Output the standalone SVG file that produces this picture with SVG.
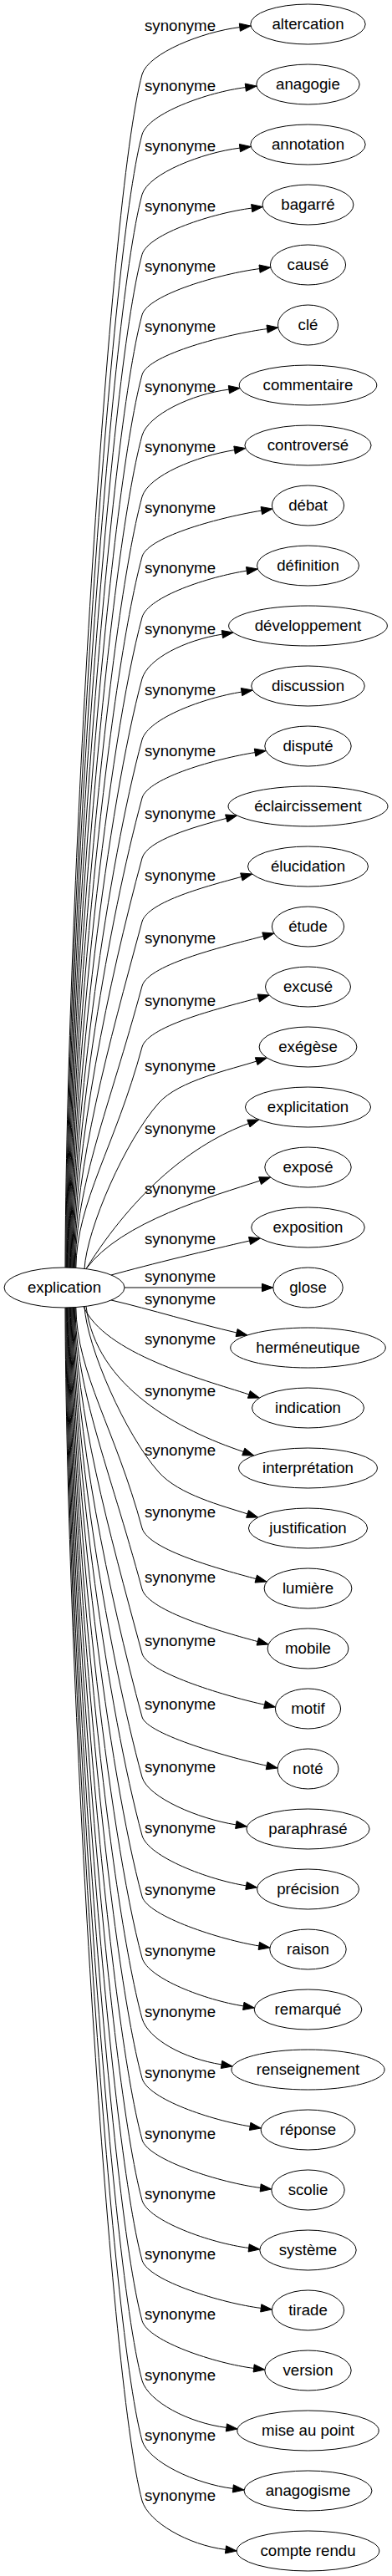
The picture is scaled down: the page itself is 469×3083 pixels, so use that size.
<svg xmlns="http://www.w3.org/2000/svg" width="469" height="3083" viewBox="0 0 469 3083">
<style>
.n ellipse{fill:#fff;stroke:#000;stroke-width:1}
text{font-family:"Liberation Sans",Arial,sans-serif;font-size:18.67px;fill:#000;text-anchor:middle}
.e path{fill:none;stroke:#000;stroke-width:1}
.e polygon{fill:#000;stroke:#000;stroke-width:1}
</style>
<rect width="469" height="3083" fill="#fff"/>
<g id="connectors">
<g class="e"><path d="M78,1517.5 C79,1089 129.5,239 170,89 C177.6,63.6 241.8,38.2 286.8,32.6"/><polygon points="300,31 287.4,37.3 286.3,28"/><text x="215.5" y="36.5">synonyme</text></g>
<g class="e"><path d="M78.8,1517.5 C79.8,1110.6 129.5,311 170,161 C177.6,135.6 248.8,110.2 293.8,104.6"/><polygon points="307,103 294.4,109.3 293.2,100"/><text x="215.5" y="108.5">synonyme</text></g>
<g class="e"><path d="M79.6,1517.5 C80.6,1132.1 129.5,382.8 170,232.8 C177.5,207.7 242,182.7 287,177.1"/><polygon points="300.2,175.5 287.5,181.8 286.4,172.5"/><text x="215.5" y="180.5">synonyme</text></g>
<g class="e"><path d="M80.4,1517.5 C81.4,1153.6 129.5,454.5 170,304.5 C177.5,279.6 256.2,254.7 301.2,249.1"/><polygon points="314.4,247.5 301.8,253.8 300.6,244.5"/><text x="215.5" y="252.5">synonyme</text></g>
<g class="e"><path d="M81.2,1517.5 C82.2,1175.3 129.5,526.8 170,376.8 C177.5,352 265.6,327.2 310.6,321.6"/><polygon points="323.8,320 311.1,326.3 310,317"/><text x="215.5" y="324.5">synonyme</text></g>
<g class="e"><path d="M82,1517.5 C83,1196.8 129.5,598.5 170,448.5 C177.4,423.8 274.6,399.2 319.6,393.6"/><polygon points="332.8,392 320.2,398.3 319,389"/><text x="215.5" y="396.5">synonyme</text></g>
<g class="e"><path d="M82.8,1517.5 C83.8,1218.6 129.5,671.2 170,521.2 C177.4,496.4 228.9,471.7 273.9,466.1"/><polygon points="287.1,464.5 274.5,470.8 273.3,461.5"/><text x="215.5" y="468.5">synonyme</text></g>
<g class="e"><path d="M83.6,1517.5 C84.6,1240.6 129.5,744.5 170,594.5 C177.6,569.3 235.6,545.7 280.6,538.6"/><polygon points="293.7,536.5 281.3,543.2 279.8,534"/><text x="215.5" y="540.5">synonyme</text></g>
<g class="e"><path d="M84.4,1517.5 C85.4,1262.1 129.5,816.2 170,666.2 C177.4,641.4 267.9,618.2 312.9,611.1"/><polygon points="326,609 313.6,615.7 312.1,606.5"/><text x="215.5" y="614">synonyme</text></g>
<g class="e"><path d="M85.2,1517.5 C86.2,1283.9 129.5,888.8 170,738.8 C177.5,713.7 250.2,690.2 295.2,683.1"/><polygon points="308.4,681 295.9,687.7 294.5,678.5"/><text x="215.5" y="686">synonyme</text></g>
<g class="e"><path d="M86,1517.5 C87,1305.9 129.5,962.2 170,812.2 C177.2,788.3 220.9,766.2 265.9,759.1"/><polygon points="279,757 266.6,763.7 265.2,754.5"/><text x="215.5" y="758.5">synonyme</text></g>
<g class="e"><path d="M86.8,1517.5 C87.8,1327.8 129.5,1035.2 170,885.2 C177.7,859.5 244.1,835.2 289.1,828.1"/><polygon points="302.2,826 289.8,832.7 288.3,823.5"/><text x="215.5" y="831.5">synonyme</text></g>
<g class="e"><path d="M87.6,1517.5 C88.6,1348.8 129.5,1105 170,955 C177.4,930.5 260,907.7 305,900.6"/><polygon points="318.2,898.5 305.8,905.2 304.3,896"/><text x="215.5" y="905">synonyme</text></g>
<g class="e"><path d="M88.4,1517.5 C89.4,1370.4 129.5,1177 170,1027 C176.4,1005.6 230.8,990.2 270.8,979.4"/><polygon points="283.6,976 272,984 269.6,974.9"/><text x="215.5" y="979.5">synonyme</text></g>
<g class="e"><path d="M89.2,1517.5 C90.2,1393.2 129.5,1253 170,1103 C177.2,1078.9 248.9,1060.2 288.9,1049.4"/><polygon points="301.8,1046 290.1,1054 287.7,1044.9"/><text x="215.5" y="1054">synonyme</text></g>
<g class="e"><path d="M90,1517.5 C91,1416.3 129.5,1330 170,1180 C178,1153.2 275,1131.2 315,1120.4"/><polygon points="327.9,1117 316.2,1125 313.8,1115.9"/><text x="215.5" y="1129">synonyme</text></g>
<g class="e"><path d="M90.8,1517.5 C91.8,1438.2 137.9,1372 170,1253 C177.9,1226.7 269.3,1205.2 309.3,1194.4"/><polygon points="322.1,1191 310.5,1199 308.1,1189.9"/><text x="215.5" y="1204">synonyme</text></g>
<g class="e"><path d="M101,1518.5 C104,1470 150,1365 190,1320 C214,1293 276.8,1279.9 306.8,1270.1"/><polygon points="319.4,1266 308.2,1274.6 305.3,1265.7"/><text x="215.5" y="1282">synonyme</text></g>
<g class="e"><path d="M103,1518.5 C161.7,1424.9 231.6,1368.5 297.4,1344.6"/><polygon points="309.9,1340 299,1348.9 295.8,1340.2"/><text x="215.5" y="1356.5">synonyme</text></g>
<g class="e"><path d="M103,1518.5 C145,1462 254,1431.7 311.1,1413.1"/><polygon points="323.7,1409 312.5,1417.6 309.6,1408.7"/><text x="215.5" y="1429">synonyme</text></g>
<g class="e"><path d="M133,1526 C180,1513 250,1496 298.6,1485"/><polygon points="311.5,1482 299.6,1489.5 297.5,1480.4"/><text x="215.5" y="1489">synonyme</text></g>
<g class="e"><path d="M149,1541 L313.5,1541"/><polygon points="326.8,1541 313.5,1545.7 313.5,1536.3"/><text x="215.5" y="1534">synonyme</text></g>
<g class="e"><path d="M133,1556 C180,1567 235,1584 283.1,1595"/><polygon points="296.1,1598 282.1,1599.6 284.2,1590.5"/><text x="215.5" y="1561">synonyme</text></g>
<g class="e"><path d="M100,1563.7 C125,1620 240.8,1650.4 297.8,1668.9"/><polygon points="310.5,1673 296.4,1673.3 299.3,1664.5"/><text x="215.5" y="1609">synonyme</text></g>
<g class="e"><path d="M103,1563.4 C115,1660 215,1712 291.3,1737.5"/><polygon points="303.8,1742 289.7,1741.8 292.9,1733.1"/><text x="215.5" y="1671">synonyme</text></g>
<g class="e"><path d="M101,1563.5 C104,1612 150,1717 190,1762 C214,1789 266.1,1802.1 296.1,1811.9"/><polygon points="308.7,1816 294.6,1816.3 297.5,1807.5"/><text x="215.5" y="1742">synonyme</text></g>
<g class="e"><path d="M90.8,1564.5 C91.8,1643.9 137.9,1710 170,1829 C177.9,1855.4 266.3,1878.8 306.3,1889.6"/><polygon points="319.1,1893 305,1894.1 307.5,1885.1"/><text x="215.5" y="1816">synonyme</text></g>
<g class="e"><path d="M90,1564.5 C91,1665.8 129.5,1752 170,1902 C178,1928.8 268.3,1953.8 308.3,1964.6"/><polygon points="321.2,1968 307.1,1969.1 309.5,1960.1"/><text x="215.5" y="1894">synonyme</text></g>
<g class="e"><path d="M89.2,1564.5 C90.2,1688.9 129.5,1829 170,1979 C177.2,2003.1 276.5,2031.7 316.5,2040.2"/><polygon points="329.5,2043 315.6,2044.8 317.5,2035.7"/><text x="215.5" y="1970">synonyme</text></g>
<g class="e"><path d="M88.4,1564.5 C89.4,1711.7 129.5,1905 170,2055 C176.4,2076.4 279.1,2104.7 319.1,2113.2"/><polygon points="332.1,2116 318.2,2117.8 320.1,2108.7"/><text x="215.5" y="2045.5">synonyme</text></g>
<g class="e"><path d="M87.6,1564.5 C88.6,1733.3 129.5,1977 170,2127 C177.4,2151.5 237.3,2176.8 282.3,2183.9"/><polygon points="295.5,2186 281.6,2188.5 283.1,2179.3"/><text x="215.5" y="2120.5">synonyme</text></g>
<g class="e"><path d="M86.8,1564.5 C87.8,1754.2 129.5,2046.8 170,2196.8 C177.7,2222.5 249.6,2249.8 294.6,2256.9"/><polygon points="307.7,2259 293.8,2261.5 295.3,2252.3"/><text x="215.5" y="2194">synonyme</text></g>
<g class="e"><path d="M86,1564.5 C87,1776.1 129.5,2119.8 170,2269.8 C177.2,2293.7 264.8,2321.8 309.8,2328.9"/><polygon points="323,2331 309.1,2333.5 310.5,2324.3"/><text x="215.5" y="2267.5">synonyme</text></g>
<g class="e"><path d="M85.2,1564.5 C86.2,1798.1 129.5,2193.2 170,2343.2 C177.5,2368.3 246.3,2393.8 291.3,2400.9"/><polygon points="304.4,2403 290.6,2405.5 292,2396.3"/><text x="215.5" y="2340.5">synonyme</text></g>
<g class="e"><path d="M84.4,1564.5 C85.4,1819.9 129.5,2265.8 170,2415.8 C177.4,2440.6 220,2463.8 265,2470.9"/><polygon points="278.2,2473 264.3,2475.5 265.8,2466.3"/><text x="215.5" y="2414">synonyme</text></g>
<g class="e"><path d="M83.6,1564.5 C84.6,1841.4 129.5,2337.5 170,2487.5 C177.6,2512.7 254.2,2537.8 299.2,2544.9"/><polygon points="312.3,2547 298.4,2549.5 299.9,2540.3"/><text x="215.5" y="2487">synonyme</text></g>
<g class="e"><path d="M82.8,1564.5 C83.8,1863.4 129.5,2410.8 170,2560.8 C177.4,2585.6 266.6,2612.9 311.6,2618.4"/><polygon points="324.8,2620 311.1,2623 312.2,2613.8"/><text x="215.5" y="2560">synonyme</text></g>
<g class="e"><path d="M82,1564.5 C83,1885.2 129.5,2483.5 170,2633.5 C177.4,2658.2 252.7,2684.9 297.7,2690.4"/><polygon points="310.9,2692 297.1,2695 298.2,2685.8"/><text x="215.5" y="2631.5">synonyme</text></g>
<g class="e"><path d="M81.2,1564.5 C82.2,1906.7 129.5,2555.2 170,2705.2 C177.5,2730 267.2,2756.9 312.2,2762.4"/><polygon points="325.4,2764 311.7,2767 312.8,2757.8"/><text x="215.5" y="2704">synonyme</text></g>
<g class="e"><path d="M80.4,1564.5 C81.4,1928.4 129.5,2627.5 170,2777.5 C177.5,2802.4 258.7,2828.9 303.7,2834.4"/><polygon points="316.9,2836 303.1,2839 304.2,2829.8"/><text x="215.5" y="2776">synonyme</text></g>
<g class="e"><path d="M79.6,1564.5 C80.6,1949.9 129.5,2699.2 170,2849.2 C177.5,2874.3 225.9,2899.9 270.9,2905.4"/><polygon points="284.1,2907 270.3,2910 271.5,2900.8"/><text x="215.5" y="2849">synonyme</text></g>
<g class="e"><path d="M78.8,1564.5 C79.8,1971.5 129.5,2771 170,2921 C177.6,2946.4 233.9,2972.9 278.9,2978.4"/><polygon points="292.1,2980 278.3,2983 279.4,2973.8"/><text x="215.5" y="2920.5">synonyme</text></g>
<g class="e"><path d="M78,1564.5 C79,1993 129.5,2843 170,2993 C177.6,3018.4 225,3045.9 270,3051.4"/><polygon points="283.2,3053 269.4,3056 270.6,3046.8"/><text x="215.5" y="2992.5">synonyme</text></g>
</g>
<g id="n-explication" class="n"><ellipse cx="77" cy="1541" rx="72" ry="24"/><text x="77" y="1547">explication</text></g>
<g id="n0" class="n"><ellipse cx="368.5" cy="29" rx="68.7" ry="24"/><text x="368.5" y="35">altercation</text></g>
<g id="n1" class="n"><ellipse cx="368.5" cy="101" rx="61.7" ry="24"/><text x="368.5" y="107">anagogie</text></g>
<g id="n2" class="n"><ellipse cx="368.5" cy="173" rx="68.7" ry="24"/><text x="368.5" y="179">annotation</text></g>
<g id="n3" class="n"><ellipse cx="368.5" cy="245" rx="54.4" ry="24"/><text x="368.5" y="251">bagarré</text></g>
<g id="n4" class="n"><ellipse cx="368.5" cy="317" rx="45.1" ry="24"/><text x="368.5" y="323">causé</text></g>
<g id="n5" class="n"><ellipse cx="368.5" cy="389" rx="36" ry="24"/><text x="368.5" y="395">clé</text></g>
<g id="n6" class="n"><ellipse cx="368.5" cy="461" rx="82.3" ry="24"/><text x="368.5" y="467">commentaire</text></g>
<g id="n7" class="n"><ellipse cx="368.5" cy="533" rx="75.6" ry="24"/><text x="368.5" y="539">controversé</text></g>
<g id="n8" class="n"><ellipse cx="368.5" cy="605" rx="43.1" ry="24"/><text x="368.5" y="611">débat</text></g>
<g id="n9" class="n"><ellipse cx="368.5" cy="677" rx="61" ry="24"/><text x="368.5" y="683">définition</text></g>
<g id="n10" class="n"><ellipse cx="368.5" cy="749" rx="94.9" ry="24"/><text x="368.5" y="755">développement</text></g>
<g id="n11" class="n"><ellipse cx="368.5" cy="821" rx="67.8" ry="24"/><text x="368.5" y="827">discussion</text></g>
<g id="n12" class="n"><ellipse cx="368.5" cy="893" rx="51.7" ry="24"/><text x="368.5" y="899">disputé</text></g>
<g id="n13" class="n"><ellipse cx="368.5" cy="965" rx="95.5" ry="24"/><text x="368.5" y="971">éclaircissement</text></g>
<g id="n14" class="n"><ellipse cx="368.5" cy="1037" rx="72" ry="24"/><text x="368.5" y="1043">élucidation</text></g>
<g id="n15" class="n"><ellipse cx="368.5" cy="1109" rx="43.1" ry="24"/><text x="368.5" y="1115">étude</text></g>
<g id="n16" class="n"><ellipse cx="368.5" cy="1181" rx="51" ry="24"/><text x="368.5" y="1187">excusé</text></g>
<g id="n17" class="n"><ellipse cx="368.5" cy="1253" rx="58.4" ry="24"/><text x="368.5" y="1259">exégèse</text></g>
<g id="n18" class="n"><ellipse cx="368.5" cy="1325" rx="75.1" ry="24"/><text x="368.5" y="1331">explicitation</text></g>
<g id="n19" class="n"><ellipse cx="368.5" cy="1397" rx="51.7" ry="24"/><text x="368.5" y="1403">exposé</text></g>
<g id="n20" class="n"><ellipse cx="368.5" cy="1469" rx="67.8" ry="24"/><text x="368.5" y="1475">exposition</text></g>
<g id="n21" class="n"><ellipse cx="368.5" cy="1541" rx="41.7" ry="24"/><text x="368.5" y="1547">glose</text></g>
<g id="n22" class="n"><ellipse cx="368.5" cy="1613" rx="92.8" ry="24"/><text x="368.5" y="1619">herméneutique</text></g>
<g id="n23" class="n"><ellipse cx="368.5" cy="1685" rx="67" ry="24"/><text x="368.5" y="1691">indication</text></g>
<g id="n24" class="n"><ellipse cx="368.5" cy="1757" rx="82.9" ry="24"/><text x="368.5" y="1763">interprétation</text></g>
<g id="n25" class="n"><ellipse cx="368.5" cy="1829" rx="71.1" ry="24"/><text x="368.5" y="1835">justification</text></g>
<g id="n26" class="n"><ellipse cx="368.5" cy="1901" rx="52.4" ry="24"/><text x="368.5" y="1907">lumière</text></g>
<g id="n27" class="n"><ellipse cx="368.5" cy="1973" rx="48.4" ry="24"/><text x="368.5" y="1979">mobile</text></g>
<g id="n28" class="n"><ellipse cx="368.5" cy="2045" rx="39.1" ry="24"/><text x="368.5" y="2051">motif</text></g>
<g id="n29" class="n"><ellipse cx="368.5" cy="2117" rx="36.4" ry="24"/><text x="368.5" y="2123">noté</text></g>
<g id="n30" class="n"><ellipse cx="368.5" cy="2189" rx="73.6" ry="24"/><text x="368.5" y="2195">paraphrasé</text></g>
<g id="n31" class="n"><ellipse cx="368.5" cy="2261" rx="61" ry="24"/><text x="368.5" y="2267">précision</text></g>
<g id="n32" class="n"><ellipse cx="368.5" cy="2333" rx="45.7" ry="24"/><text x="368.5" y="2339">raison</text></g>
<g id="n33" class="n"><ellipse cx="368.5" cy="2405" rx="64.3" ry="24"/><text x="368.5" y="2411">remarqué</text></g>
<g id="n34" class="n"><ellipse cx="368.5" cy="2477" rx="91.6" ry="24"/><text x="368.5" y="2483">renseignement</text></g>
<g id="n35" class="n"><ellipse cx="368.5" cy="2549" rx="56.4" ry="24"/><text x="368.5" y="2555">réponse</text></g>
<g id="n36" class="n"><ellipse cx="368.5" cy="2621" rx="43.7" ry="24"/><text x="368.5" y="2627">scolie</text></g>
<g id="n37" class="n"><ellipse cx="368.5" cy="2693" rx="57.7" ry="24"/><text x="368.5" y="2699">système</text></g>
<g id="n38" class="n"><ellipse cx="368.5" cy="2765" rx="43.1" ry="24"/><text x="368.5" y="2771">tirade</text></g>
<g id="n39" class="n"><ellipse cx="368.5" cy="2837" rx="51.7" ry="24"/><text x="368.5" y="2843">version</text></g>
<g id="n40" class="n"><ellipse cx="368.5" cy="2909" rx="84.7" ry="24"/><text x="368.5" y="2915">mise au point</text></g>
<g id="n41" class="n"><ellipse cx="368.5" cy="2981" rx="76.5" ry="24"/><text x="368.5" y="2987">anagogisme</text></g>
<g id="n42" class="n"><ellipse cx="368.5" cy="3053" rx="85.3" ry="24"/><text x="368.5" y="3059">compte rendu</text></g>
</svg>
